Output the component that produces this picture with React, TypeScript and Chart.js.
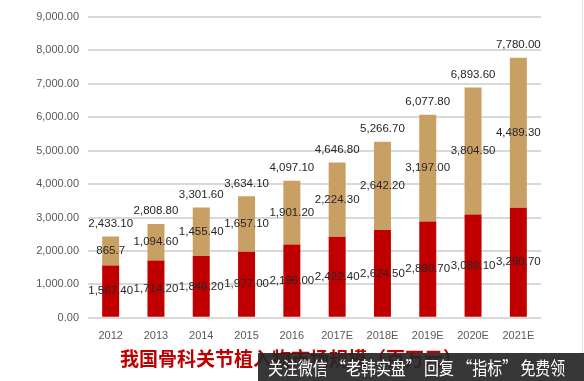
import React, { useEffect, useRef } from "react";
import { Chart, registerables } from "chart.js";

Chart.register(...registerables);

const categories = ["2012", "2013", "2014", "2015", "2016", "2017E", "2018E", "2019E", "2020E", "2021E"];
const redValues = [1567.4, 1714.2, 1846.2, 1977.0, 2196.0, 2422.4, 2624.5, 2880.7, 3089.1, 3290.7];
const tanValues = [865.7, 1094.6, 1455.4, 1657.1, 1901.2, 2224.3, 2642.2, 3197.0, 3804.5, 4489.3];
const totalValues = [2433.1, 2808.8, 3301.6, 3634.1, 4097.1, 4646.8, 5266.7, 6077.8, 6893.6, 7780.0];
const tanLabelOverrides: Record<number, string> = { 0: "865.7" };
const yTicks = [0, 1000, 2000, 3000, 4000, 5000, 6000, 7000, 8000, 9000];

const titleText = "我国骨科关节植入物市场规模（百万元）";
const watermarkText = "关注微信 “老韩实盘” 回复 “指标” 免费领";

const fmt = (v: number) =>
  v.toLocaleString("en-US", { minimumFractionDigits: 2, maximumFractionDigits: 2 });

const labelPlugin = {
  id: "valueLabels",
  afterDatasetsDraw(chart: any) {
    const ctx = chart.ctx;
    ctx.save();
    ctx.font = '11.5px "Liberation Sans", Arial, sans-serif';
    ctx.fillStyle = "#262626";
    ctx.textAlign = "center";
    ctx.textBaseline = "middle";
    chart.data.datasets.forEach((ds: any, i: number) => {
      const meta = chart.getDatasetMeta(i);
      meta.data.forEach((bar: any, j: number) => {
        const { x, y, base } = bar.getProps(["x", "y", "base"], true);
        let txt = fmt(ds.data[j]);
        if (i === 1 && tanLabelOverrides[j]) txt = tanLabelOverrides[j];
        ctx.fillText(txt, x, (y + base) / 2);
      });
    });
    const topMeta = chart.getDatasetMeta(1);
    topMeta.data.forEach((bar: any, j: number) => {
      const { x, y } = bar.getProps(["x", "y"], true);
      ctx.fillText(fmt(totalValues[j]), x, y - 13);
    });
    ctx.restore();
  },
};

export default function App() {
  const ref = useRef<HTMLCanvasElement>(null);
  useEffect(() => {
    if (!ref.current) return;
    const chart = new Chart(ref.current, {
      type: "bar",
      data: {
        labels: categories,
        datasets: [
          { label: "red", data: redValues, backgroundColor: "#C00000", barPercentage: 0.375, categoryPercentage: 1 },
          { label: "tan", data: tanValues, backgroundColor: "#C9A063", barPercentage: 0.375, categoryPercentage: 1 },
        ],
      },
      options: {
        animation: false,
        responsive: false,
        maintainAspectRatio: false,
        layout: { padding: { top: 17, right: 43, bottom: 34, left: 0 } },
        plugins: { legend: { display: false }, tooltip: { enabled: false } },
        scales: {
          x: {
            stacked: true,
            grid: { display: false },
            border: { display: false },
            ticks: { color: "#595959", font: { size: 11, family: '"Liberation Sans", Arial, sans-serif' }, padding: 4 },
          },
          y: {
            stacked: true,
            min: 0,
            max: 9000,
            afterBuildTicks: (s: any) => {
              s.ticks = yTicks.map((v) => ({ value: v }));
            },
            afterFit: (s: any) => {
              s.width = 88;
            },
            grid: { color: "#d9d9d9", lineWidth: 2, drawTicks: false },
            border: { display: false },
            ticks: {
              color: "#595959",
              padding: 9,
              font: { size: 11, family: '"Liberation Sans", Arial, sans-serif' },
              callback: (v: any) => fmt(Number(v)),
            },
          },
        },
      },
      plugins: [labelPlugin],
    });
    return () => chart.destroy();
  }, []);

  return (
    <div style={{ position: "fixed", left: 0, top: 0, width: 584, height: 381, background: "#fff", overflow: "hidden" }}>
      <canvas ref={ref} width={584} height={381} style={{ position: "absolute", left: 0, top: 0 }} />
      <div style={{ position: "absolute", left: 582, top: 0, width: 1, height: 353, background: "#e2e2e2" }} />
      <div
        style={{
          position: "absolute",
          left: 120,
          top: 347,
          fontFamily: '"Noto Sans CJK SC", sans-serif',
          fontWeight: 700,
          fontSize: 19,
          lineHeight: "22px",
          color: "#C00000",
          whiteSpace: "nowrap",
        }}
      >
        {titleText}
      </div>
      <div
        style={{
          position: "absolute",
          left: 258,
          top: 353,
          width: 326,
          height: 28,
          background: "rgba(38,38,38,0.92)",
          color: "#fff",
          fontFamily: '"Noto Sans CJK SC", sans-serif',
          fontSize: 18,
          lineHeight: "28px",
          boxSizing: "border-box",
          whiteSpace: "nowrap",
        }}
      >
        <span style={{ display: "inline-block", transform: "scaleX(0.83)", transformOrigin: "left center", marginLeft: 10 }}>
          {watermarkText}
        </span>
      </div>
    </div>
  );
}
